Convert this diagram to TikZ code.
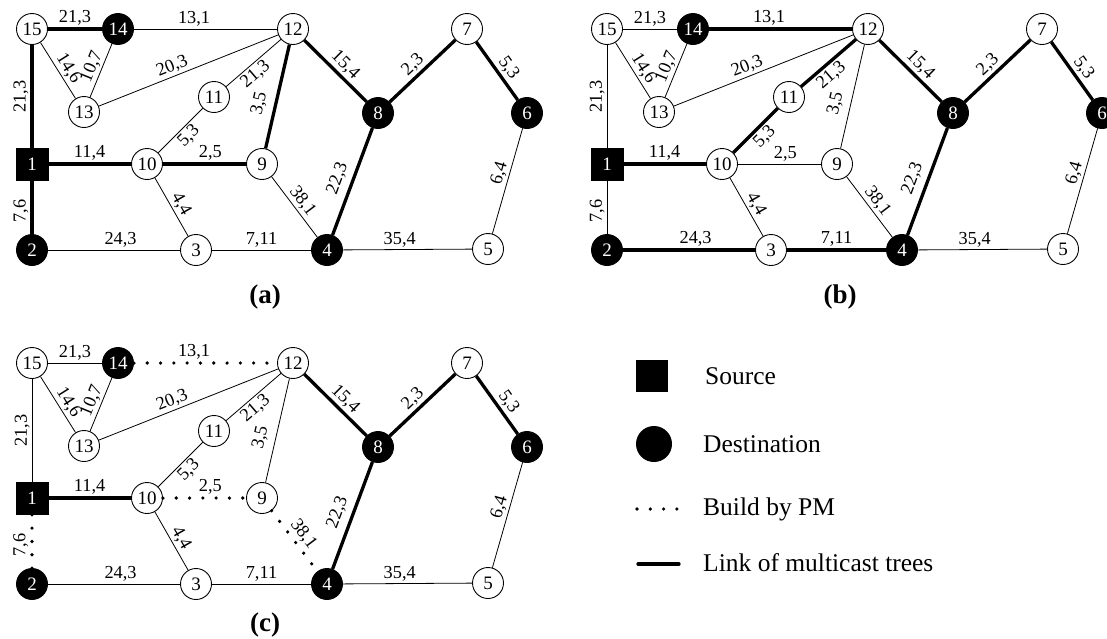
\documentclass[tikz,border=0pt]{standalone}
\usepackage{fontspec}
\setmainfont{Liberation Serif}
\tikzset{
  nd/.style={circle, draw, line width=0.9pt, minimum size=31pt, inner sep=0pt, fill=white, font=\fontsize{19}{19}\selectfont},
  dst/.style={nd, fill=black, text=white},
  src/.style={rectangle, draw, fill=black, text=white, minimum size=32pt, inner sep=0pt, font=\fontsize{19}{19}\selectfont},
  ln/.style={line width=0.8pt},
  tree/.style={line width=3.3pt},
  pm/.style={line width=3.6pt, line cap=round, dash pattern=on 0pt off 13.3pt},
  lab/.style={font=\fontsize{18.3}{18.3}\selectfont, inner sep=2pt, sloped},
  captext/.style={font=\fontsize{27}{27}\selectfont\bfseries},
  legtext/.style={anchor=west, font=\fontsize{25.5}{25.5}\selectfont, inner sep=0pt},
}
\newcommand\placenodes[3]{%
  \begin{scope}[shift={(#2,#3)}]
    \node[src] (#11) at (32,164) {1};
    \node[dst] (#12) at (32,250) {2};
    \node[nd]  (#13) at (196,250) {3};
    \node[dst] (#14) at (327,250) {4};
    \node[nd]  (#15) at (488,249) {5};
    \node[dst] (#16) at (527,113) {6};
    \node[nd]  (#17) at (467,29) {7};
    \node[dst] (#18) at (378,113) {8};
    \node[nd]  (#19) at (262,164) {9};
    \node[nd]  (#110) at (147,164) {10};
    \node[nd]  (#111) at (214,97) {11};
    \node[nd]  (#112) at (293,29) {12};
    \node[nd]  (#113) at (84,112) {13};
    \node[dst] (#114) at (118,29) {14};
    \node[nd]  (#115) at (32,29) {15};
  \end{scope}
}
\newcommand\E[6]{\draw[#1] (#2) -- node[lab,#6,pos=#5] {#4} (#3);}
\begin{document}
\begin{tikzpicture}[x=1pt, y=-1pt]
\path[fill=white, use as bounding box] (0,0) rectangle (1107,638);

% ---------- graph (a)
\placenodes{a}{0}{0}
\E{tree}{a15}{a14}{21,3}{0.5}{above}
\E{ln}{a14}{a12}{13,1}{0.42}{above}
\E{tree}{a1}{a15}{21,3}{0.5}{above}
\E{ln}{a15}{a13}{14,6}{0.56}{above}
\E{ln}{a13}{a14}{10,7}{0.5}{above}
\E{ln}{a13}{a12}{20,3}{0.43}{above}
\E{ln}{a11}{a12}{21,3}{0.42}{below}
\E{ln}{a10}{a11}{5,3}{0.53}{below}
\E{tree}{a9}{a12}{3,5}{0.4}{above=5pt}
\E{tree}{a12}{a8}{15,4}{0.53}{above}
\E{tree}{a8}{a7}{2,3}{0.47}{above}
\E{tree}{a7}{a6}{5,3}{0.56}{above}
\E{ln}{a5}{a6}{6,4}{0.55}{above}
\E{tree}{a1}{a10}{11,4}{0.5}{above}
\E{tree}{a10}{a9}{2,5}{0.57}{above}
\E{ln}{a9}{a4}{38,1}{0.5}{above}
\E{tree}{a4}{a8}{22,3}{0.48}{above=4pt}
\E{ln}{a10}{a3}{4,4}{0.53}{above}
\E{tree}{a2}{a1}{7,6}{0.43}{above}
\E{ln}{a2}{a3}{24,3}{0.55}{above}
\E{ln}{a3}{a4}{7,11}{0.5}{above}
\E{ln}{a4}{a5}{35,4}{0.44}{above}
\node[captext] (capa) at (265,297) {(a)};

% ---------- graph (b)
\placenodes{b}{575}{0}
\E{ln}{b15}{b14}{21,3}{0.5}{above}
\E{tree}{b14}{b12}{13,1}{0.42}{above}
\E{ln}{b1}{b15}{21,3}{0.5}{above}
\E{ln}{b15}{b13}{14,6}{0.56}{above}
\E{ln}{b13}{b14}{10,7}{0.5}{above}
\E{ln}{b13}{b12}{20,3}{0.43}{above}
\E{tree}{b11}{b12}{21,3}{0.42}{below}
\E{tree}{b10}{b11}{5,3}{0.53}{below}
\E{ln}{b9}{b12}{3,5}{0.4}{above=5pt}
\E{tree}{b12}{b8}{15,4}{0.53}{above}
\E{tree}{b8}{b7}{2,3}{0.47}{above}
\E{tree}{b7}{b6}{5,3}{0.56}{above}
\E{ln}{b5}{b6}{6,4}{0.55}{above}
\E{tree}{b1}{b10}{11,4}{0.5}{above}
\E{ln}{b10}{b9}{2,5}{0.57}{above}
\E{ln}{b9}{b4}{38,1}{0.5}{above}
\E{tree}{b4}{b8}{22,3}{0.48}{above=4pt}
\E{ln}{b10}{b3}{4,4}{0.53}{above}
\E{ln}{b2}{b1}{7,6}{0.43}{above}
\E{tree}{b2}{b3}{24,3}{0.55}{above}
\E{tree}{b3}{b4}{7,11}{0.5}{above}
\E{ln}{b4}{b5}{35,4}{0.44}{above}
\node[captext] (capb) at (840,297) {(b)};

% ---------- graph (c)
\placenodes{c}{0}{334}
\E{ln}{c15}{c14}{21,3}{0.5}{above}
\E{pm}{c14}{c12}{13,1}{0.42}{above}
\E{ln}{c1}{c15}{21,3}{0.5}{above}
\E{ln}{c15}{c13}{14,6}{0.56}{above}
\E{ln}{c13}{c14}{10,7}{0.5}{above}
\E{ln}{c13}{c12}{20,3}{0.43}{above}
\E{ln}{c11}{c12}{21,3}{0.42}{below}
\E{ln}{c10}{c11}{5,3}{0.53}{below}
\E{ln}{c9}{c12}{3,5}{0.4}{above=5pt}
\E{tree}{c12}{c8}{15,4}{0.53}{above}
\E{tree}{c8}{c7}{2,3}{0.47}{above}
\E{tree}{c7}{c6}{5,3}{0.56}{above}
\E{ln}{c5}{c6}{6,4}{0.55}{above}
\E{tree}{c1}{c10}{11,4}{0.5}{above}
\E{pm}{c10}{c9}{2,5}{0.57}{above}
\E{pm}{c9}{c4}{38,1}{0.5}{above}
\E{tree}{c4}{c8}{22,3}{0.48}{above=4pt}
\E{ln}{c10}{c3}{4,4}{0.53}{above}
\E{pm}{c2}{c1}{7,6}{0.43}{above}
\E{ln}{c2}{c3}{24,3}{0.55}{above}
\E{ln}{c3}{c4}{7,11}{0.5}{above}
\E{ln}{c4}{c5}{35,4}{0.44}{above}
\node[captext] (capc) at (265,625) {(c)};

% ---------- legend
\node[rectangle, fill=black, minimum size=32pt, inner sep=0pt] (lsrc) at (652,376) {};
\node[circle, fill=black, minimum size=36pt, inner sep=0pt] (ldst) at (654,444) {};
\coordinate (lpm1) at (637,509);
\coordinate (lpm2) at (677,509);
\draw[pm] (lpm1) -- (lpm2);
\coordinate (ltr1) at (638,564);
\coordinate (ltr2) at (679,564);
\draw[tree, line cap=round] (ltr1) -- (ltr2);
\node[legtext] (tsrc) at (705,376) {Source};
\node[legtext] (tdst) at (703,444) {Destination};
\node[legtext] (tpm) at (703,509) {Build by PM};
\node[legtext] (ttr) at (703,563) {Link of multicast trees};
\end{tikzpicture}
\end{document}
